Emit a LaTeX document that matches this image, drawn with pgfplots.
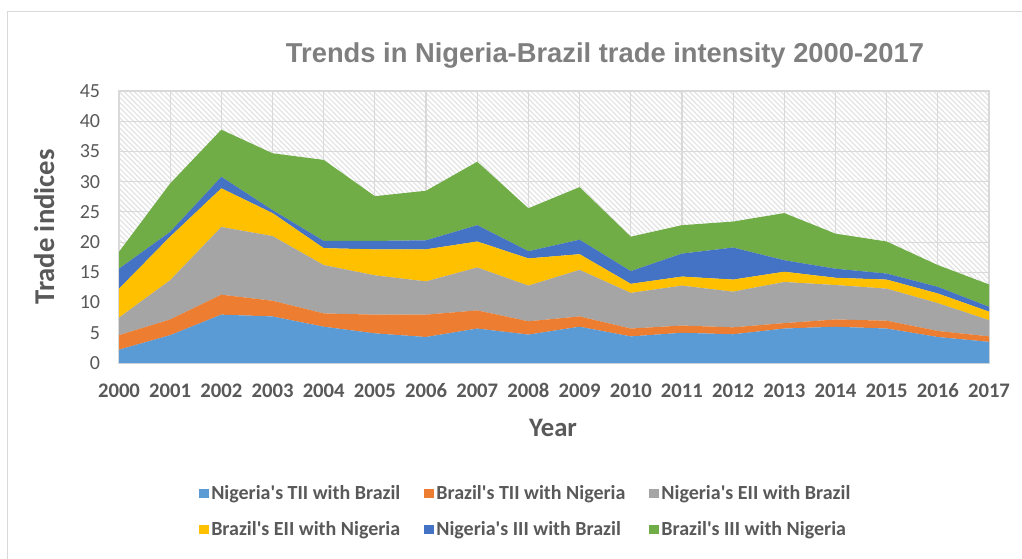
\documentclass[border=0pt]{standalone}
\usepackage{pgfplots}
\pgfplotsset{compat=1.18}
\usepackage{pgfplotstable}
\usepackage{fontspec}
\setmainfont{Carlito}
\newfontfamily\titlefont{Liberation Sans}
\usetikzlibrary{patterns.meta}
\definecolor{cBlue}{HTML}{5B9BD5}
\definecolor{cOrange}{HTML}{ED7D31}
\definecolor{cGray}{HTML}{A5A5A5}
\definecolor{cYellow}{HTML}{FFC000}
\definecolor{cDBlue}{HTML}{4472C4}
\definecolor{cGreen}{HTML}{70AD47}
\definecolor{txt}{HTML}{595959}
\definecolor{ttl}{HTML}{7F7F7F}
\definecolor{gridc}{HTML}{D9D9D9}
\definecolor{hatch}{HTML}{E3E3E3}
\newcommand{\ap}{\textquotesingle}

\pgfplotstableread{
year  ntii  btii  neii  beii  niii  biii
2000  2.2   2.4   2.9   4.8   3.3   2.8
2001  4.6   2.6   6.5   7.2   0.8   8.0
2002  8.0   3.3   11.2  6.4   1.9   7.8
2003  7.7   2.6   10.7  3.8   0.5   9.4
2004  6.0   2.2   8.0   2.8   1.2   13.4
2005  4.9   3.1   6.5   4.3   1.4   7.4
2006  4.3   3.7   5.5   5.3   1.5   8.2
2007  5.7   3.0   7.1   4.3   2.7   10.5
2008  4.7   2.2   5.9   4.5   1.2   7.1
2009  6.0   1.7   7.7   2.6   2.4   8.7
2010  4.4   1.3   5.9   1.5   2.1   5.7
2011  5.0   1.2   6.6   1.5   3.8   4.7
2012  4.75  1.15  5.9   2.0   5.3   4.3
2013  5.7   0.9   6.8   1.7   1.9   7.8
2014  6.0   1.2   5.7   1.2   1.5   5.8
2015  5.7   1.3   5.3   1.5   1.0   5.3
2016  4.3   1.0   4.6   1.6   1.1   3.6
2017  3.5   0.9   2.7   1.4   0.8   3.7
}\datatable

\begin{document}
\begin{tikzpicture}
\useasboundingbox (0pt,0pt) rectangle (766.5pt,418.5pt);
\fill[white] (0pt,0pt) rectangle (766.5pt,418.5pt);
\draw[gridc, line width=0.75pt] (5.25pt,-8pt) -- (5.25pt,409.5pt) -- (780pt,409.5pt);
\begin{axis}[
  at={(89.25pt,146.25pt)}, anchor=south west,
  scale only axis, width=652.5pt, height=204pt,
  xmin=2000, xmax=2017, ymin=0, ymax=45,
  xtick={2000,2001,...,2017}, ytick={0,5,...,45},
  stack plots=y,
  axis background/.style={pattern={Lines[angle=-45,distance=2.7pt,line width=0.9pt]}, pattern color=hatch},
  grid=major, major grid style={draw=gridc, line width=0.9pt},
  axis line style={draw=gridc, line width=0.9pt},
  major tick length=0pt,
  /pgf/number format/assume math mode=true,
  /pgf/number format/1000 sep={},
  xticklabel style={font=\fontsize{15.5}{18}\selectfont\bfseries, text=txt, anchor=base, inner sep=0pt, yshift=-25.5pt},
  yticklabel style={font=\fontsize{15}{18}\selectfont, text=txt, anchor=east, inner sep=0pt, xshift=-14pt},
  legend columns=3,
  legend style={at={(0.468,-0.545)}, anchor=center, draw=none, fill=none,
    font=\fontsize{15}{18}\selectfont\bfseries, text=txt,
    /tikz/every even column/.append style={column sep=16pt},
    row sep=11pt, inner sep=0pt},
  legend image code/.code={\fill[#1] (0pt,-3.5pt) rectangle (7pt,3.5pt);},
  legend cell align=left,
  clip=false,
]
\addplot[fill=cBlue, draw=none] table[x=year,y=ntii]{\datatable} \closedcycle;
\addlegendentry{Nigeria\ap s TII with Brazil}
\addplot[fill=cOrange, draw=none] table[x=year,y=btii]{\datatable} \closedcycle;
\addlegendentry{Brazil\ap s TII with Nigeria}
\addplot[fill=cGray, draw=none] table[x=year,y=neii]{\datatable} \closedcycle;
\addlegendentry{Nigeria\ap s EII with Brazil}
\addplot[fill=cYellow, draw=none] table[x=year,y=beii]{\datatable} \closedcycle;
\addlegendentry{Brazil\ap s EII with Nigeria}
\addplot[fill=cDBlue, draw=none] table[x=year,y=niii]{\datatable} \closedcycle;
\addlegendentry{Nigeria\ap s III with Brazil}
\addplot[fill=cGreen, draw=none] table[x=year,y=biii]{\datatable} \closedcycle;
\addlegendentry{Brazil\ap s III with Nigeria}
\end{axis}
\node[anchor=base, text=ttl, font=\titlefont\fontsize{20.5}{24}\selectfont\bfseries] at (453.75pt,371.25pt) {Trends in Nigeria-Brazil trade intensity 2000-2017};
\node[anchor=base, text=txt, font=\fontsize{20}{24}\selectfont\bfseries] at (414.75pt,91.5pt) {Year};
\node[anchor=base, rotate=90, text=txt, font=\fontsize{21.5}{24}\selectfont\bfseries] at (40.5pt,248.25pt) {Trade indices};
\end{tikzpicture}
\end{document}
